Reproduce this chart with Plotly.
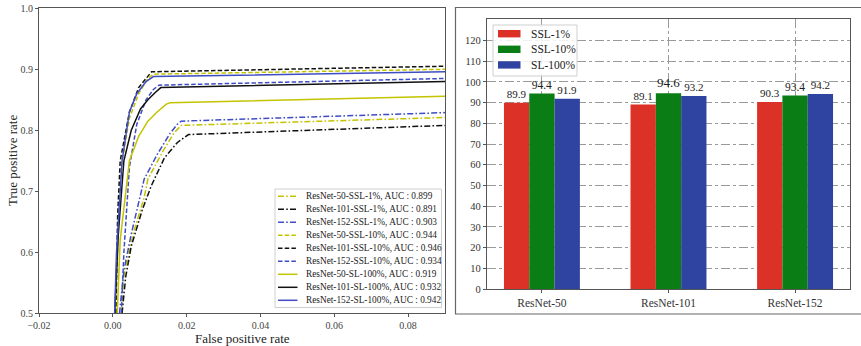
import plotly.graph_objects as go

# ---------------- ROC data (left panel) ----------------
roc_names = [
    "ResNet-50-SSL-1%, AUC : 0.899",
    "ResNet-101-SSL-1%, AUC : 0.891",
    "ResNet-152-SSL-1%, AUC : 0.903",
    "ResNet-50-SSL-10%, AUC : 0.944",
    "ResNet-101-SSL-10%, AUC : 0.946",
    "ResNet-152-SSL-10%, AUC : 0.934",
    "ResNet-50-SL-100%, AUC : 0.919",
    "ResNet-101-SL-100%, AUC : 0.932",
    "ResNet-152-SL-100%, AUC : 0.942",
]

fpr_r50_ssl1 = [0.0023, 0.003, 0.0055, 0.0085, 0.0095, 0.0135, 0.0165, 0.0185, 0.09]
tpr_r50_ssl1 = [0.5, 0.56, 0.63, 0.69, 0.72, 0.765, 0.795, 0.808, 0.821]

fpr_r101_ssl1 = [0.0025, 0.0035, 0.005, 0.008, 0.0105, 0.012, 0.014, 0.0175, 0.0205, 0.09]
tpr_r101_ssl1 = [0.5, 0.56, 0.61, 0.67, 0.71, 0.73, 0.755, 0.78, 0.793, 0.808]

fpr_r152_ssl1 = [0.0018, 0.003, 0.005, 0.0085, 0.012, 0.0155, 0.0175, 0.0185, 0.09]
tpr_r152_ssl1 = [0.5, 0.57, 0.63, 0.72, 0.76, 0.795, 0.81, 0.815, 0.829]

fpr_r50_ssl10 = [0.0009, 0.0015, 0.0023, 0.0045, 0.007, 0.0095, 0.011, 0.09]
tpr_r50_ssl10 = [0.5, 0.66, 0.74, 0.82, 0.86, 0.885, 0.892, 0.900]

fpr_r101_ssl10 = [0.0008, 0.0013, 0.002, 0.0045, 0.007, 0.0095, 0.0105, 0.09]
tpr_r101_ssl10 = [0.5, 0.66, 0.75, 0.83, 0.87, 0.89, 0.896, 0.905]

fpr_r152_ssl10 = [0.0023, 0.003, 0.0045, 0.0065, 0.009, 0.011, 0.0125, 0.09]
tpr_r152_ssl10 = [0.5, 0.6, 0.74, 0.81, 0.85, 0.867, 0.874, 0.885]

fpr_r50_sl100 = [0.0012, 0.002, 0.0045, 0.007, 0.0095, 0.012, 0.0145, 0.0155, 0.09]
tpr_r50_sl100 = [0.5, 0.62, 0.75, 0.79, 0.815, 0.83, 0.843, 0.845, 0.856]

fpr_r101_sl100 = [0.0005, 0.0015, 0.003, 0.005, 0.0075, 0.0095, 0.0115, 0.013, 0.09]
tpr_r101_sl100 = [0.5, 0.63, 0.75, 0.80, 0.835, 0.85, 0.862, 0.870, 0.880]

fpr_r152_sl100 = [0.0005, 0.001, 0.0025, 0.0045, 0.0065, 0.009, 0.011, 0.09]
tpr_r152_sl100 = [0.5, 0.6, 0.75, 0.83, 0.86, 0.88, 0.888, 0.896]

roc_fpr = [fpr_r50_ssl1, fpr_r101_ssl1, fpr_r152_ssl1,
           fpr_r50_ssl10, fpr_r101_ssl10, fpr_r152_ssl10,
           fpr_r50_sl100, fpr_r101_sl100, fpr_r152_sl100]
roc_tpr = [tpr_r50_ssl1, tpr_r101_ssl1, tpr_r152_ssl1,
           tpr_r50_ssl10, tpr_r101_ssl10, tpr_r152_ssl10,
           tpr_r50_sl100, tpr_r101_sl100, tpr_r152_sl100]

# ---------------- Bar data (right panel) ----------------
models = ["ResNet-50", "ResNet-101", "ResNet-152"]
ssl_1 = [89.9, 89.1, 90.3]
ssl_10 = [94.4, 94.6, 93.4]
sl_100 = [91.9, 93.2, 94.2]
bar_names = ["SSL-1%", "SSL-10%", "SL-100%"]

# ---------------- styles ----------------
YEL = "#c3c300"
BLK = "#111111"
BLU = "#3f4dc4"
DASHDOT = "6px,2.2px,1.6px,2.2px"
DASH = "4.5px,2.2px"
roc_colors = [YEL, BLK, BLU] * 3
roc_dashes = [DASHDOT] * 3 + [DASH] * 3 + ["solid"] * 3
bar_colors = ["#dc3126", "#0a7d15", "#2f44a0"]
FONT = "Liberation Serif"

W, H = 861, 346


def px_x(p):
    return p / W


def px_y(p):
    return 1 - p / H


fig = go.Figure()

for i in range(9):
    fig.add_trace(go.Scatter(
        x=roc_fpr[i], y=roc_tpr[i], mode="lines", name=roc_names[i],
        line=dict(color=roc_colors[i], dash=roc_dashes[i], width=1.5),
        xaxis="x", yaxis="y", showlegend=False,
    ))

bar_vals = [ssl_1, ssl_10, sl_100]
text_sizes = [[11, 11, 11], [11.5, 13, 11.5], [11, 11, 11]]
for i in range(3):
    fig.add_trace(go.Bar(
        x=models, y=bar_vals[i], name=bar_names[i],
        marker=dict(color=bar_colors[i], line=dict(width=0)),
        text=[f"{v:.1f}" for v in bar_vals[i]],
        textposition="outside", cliponaxis=False,
        textfont=dict(family=FONT, size=text_sizes[i], color="#222"),
        xaxis="x2", yaxis="y2", showlegend=False,
    ))

axis_common = dict(
    showline=True, mirror=True, linecolor="#555", linewidth=1.2,
    ticks="outside", ticklen=3, tickcolor="#555",
    zeroline=False, automargin=False,
)

shapes = [
    # outer frame of the right panel
    dict(type="rect", xref="paper", yref="paper",
         x0=px_x(455.5), x1=px_x(875), y0=px_y(314), y1=px_y(7.5),
         line=dict(color="#666", width=1.2), fillcolor="rgba(0,0,0,0)", layer="below"),
    # ROC legend box
    dict(type="rect", xref="paper", yref="paper",
         x0=px_x(275), x1=px_x(441.5), y0=px_y(307.5), y1=px_y(189),
         line=dict(color="#cfcfcf", width=1), fillcolor="rgba(255,255,255,0.85)", layer="above"),
    # Bar legend box
    dict(type="rect", xref="paper", yref="paper",
         x0=px_x(493), x1=px_x(577), y0=px_y(76), y1=px_y(25),
         line=dict(color="#cfcfcf", width=1), fillcolor="rgba(255,255,255,0.85)", layer="above"),
]
annotations = []

# ROC legend entries
for i, name in enumerate(roc_names):
    yc = 196.3 + 13.0 * i
    shapes.append(dict(type="line", xref="paper", yref="paper",
                       x0=px_x(278), x1=px_x(297.5), y0=px_y(yc), y1=px_y(yc),
                       line=dict(color=roc_colors[i], dash=roc_dashes[i], width=1.5),
                       layer="above"))
    annotations.append(dict(xref="paper", yref="paper", x=px_x(303.5), y=px_y(yc),
                            xanchor="left", yanchor="middle", showarrow=False,
                            text=name, font=dict(family=FONT, size=9.3, color="#222")))

# Bar legend entries
for i, name in enumerate(bar_names):
    yc = 33.7 + 15.6 * i
    shapes.append(dict(type="rect", xref="paper", yref="paper",
                       x0=px_x(498), x1=px_x(520.5), y0=px_y(yc + 3.7), y1=px_y(yc - 3.7),
                       line=dict(width=0), fillcolor=bar_colors[i], layer="above"))
    annotations.append(dict(xref="paper", yref="paper", x=px_x(529), y=px_y(yc),
                            xanchor="left", yanchor="middle", showarrow=False,
                            text=name, font=dict(family=FONT, size=11.5, color="#222")))

# axis titles
annotations.append(dict(xref="paper", yref="paper", x=px_x(242), y=px_y(338),
                        xanchor="center", yanchor="middle", showarrow=False,
                        text="False positive rate", font=dict(family=FONT, size=13, color="#222")))
annotations.append(dict(xref="paper", yref="paper", x=px_x(12), y=px_y(161),
                        xanchor="center", yanchor="middle", showarrow=False, textangle=-90,
                        text="True positive rate", font=dict(family=FONT, size=13, color="#222")))

fig.update_layout(
    width=W, height=H,
    margin=dict(l=0, r=0, t=0, b=0),
    paper_bgcolor="white", plot_bgcolor="white",
    font=dict(family=FONT, color="#222"),
    barmode="group", bargap=0.4, bargroupgap=0,
    showlegend=False,
    xaxis=dict(
        domain=[px_x(39), px_x(445)], range=[-0.02, 0.09],
        tickvals=[-0.02, 0, 0.02, 0.04, 0.06, 0.08],
        ticktext=["\u22120.02", "0.00", "0.02", "0.04", "0.06", "0.08"],
        showgrid=False, anchor="y",
        tickfont=dict(family=FONT, size=10, color="#444"),
        **axis_common,
    ),
    yaxis=dict(
        domain=[px_y(313.3), px_y(8.3)], range=[0.5, 1.0],
        tickvals=[0.5, 0.6, 0.7, 0.8, 0.9, 1.0],
        ticktext=["0.5", "0.6", "0.7", "0.8", "0.9", "1.0"],
        showgrid=False, anchor="x",
        tickfont=dict(family=FONT, size=10, color="#444"),
        **axis_common,
    ),
    xaxis2=dict(
        domain=[px_x(487), px_x(850)], range=[-0.434, 2.434],
        showgrid=True, gridcolor="#9a9a9a", griddash="dashdot", gridwidth=1,
        anchor="y2", tickfont=dict(family=FONT, size=11.5, color="#333"),
        **axis_common,
    ),
    yaxis2=dict(
        domain=[px_y(289), px_y(19)], range=[0, 130.4],
        tickvals=[0, 10, 20, 30, 40, 50, 60, 70, 80, 90, 100, 110, 120],
        showgrid=True, gridcolor="#9a9a9a", griddash="dashdot", gridwidth=1,
        anchor="x2", tickfont=dict(family=FONT, size=10.5, color="#333"),
        **axis_common,
    ),
    shapes=shapes,
    annotations=annotations,
)

fig.write_html(
    "out.html",
    config={"displayModeBar": False},
    post_script="document.body.style.margin='0';document.body.style.padding='0';",
)
